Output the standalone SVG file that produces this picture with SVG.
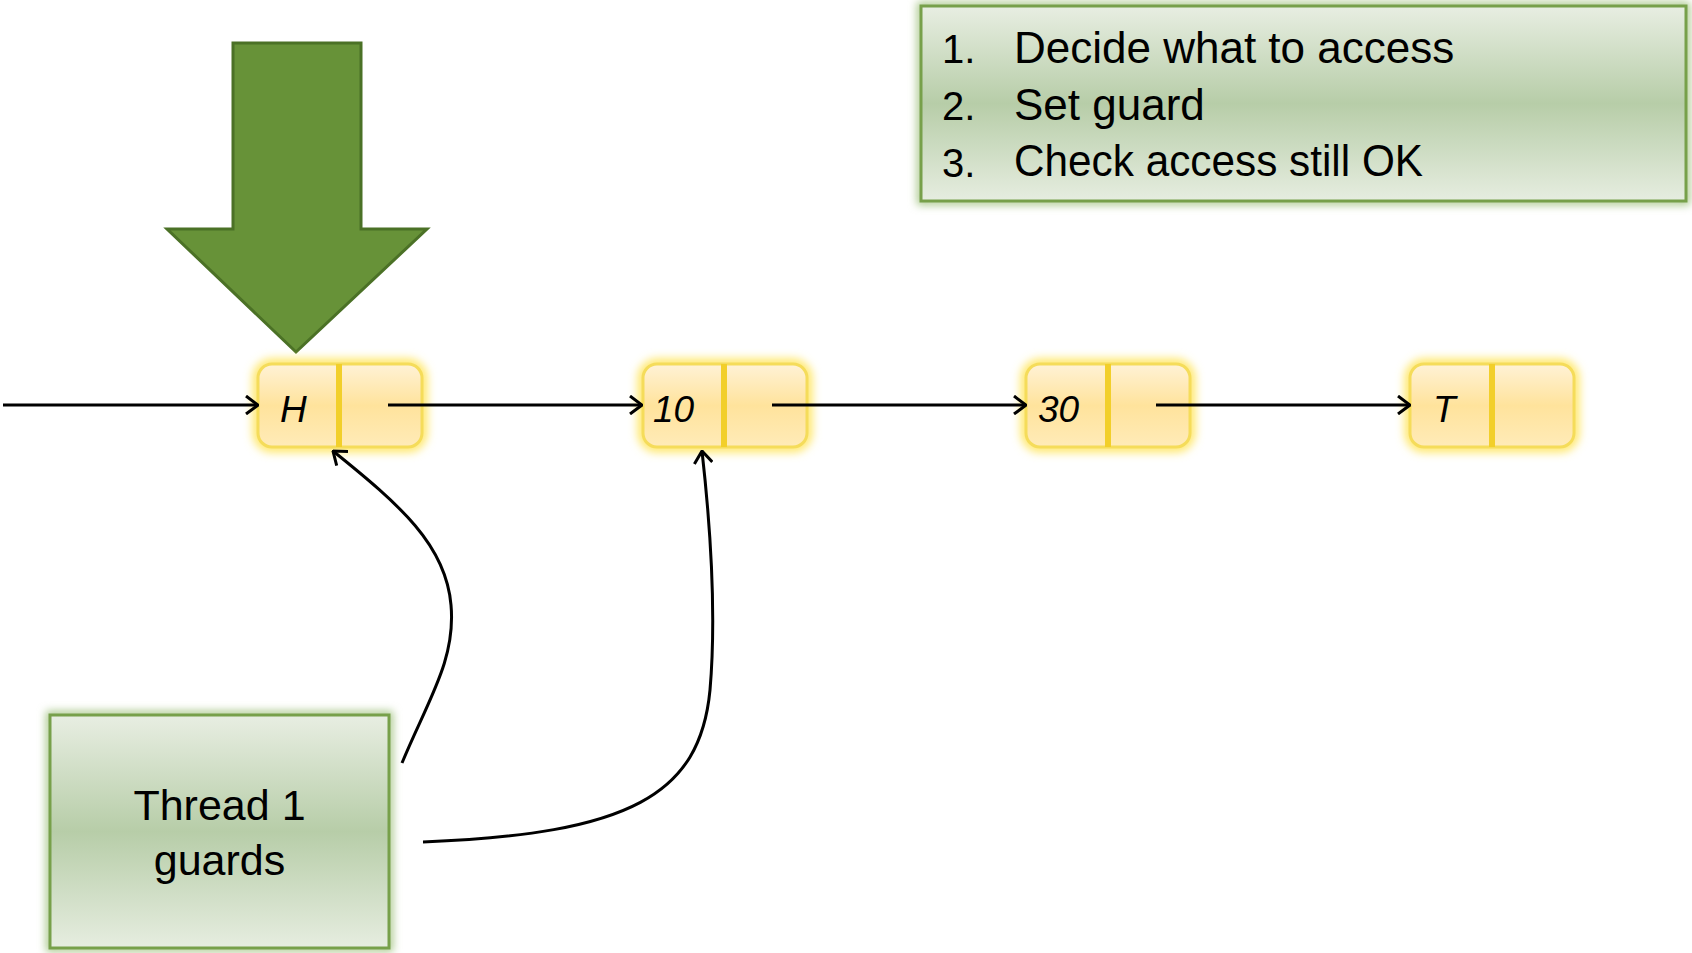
<svg xmlns="http://www.w3.org/2000/svg" width="1692" height="953" viewBox="0 0 1692 953">
<style>
.lbl{font-family:"Liberation Sans",Arial,sans-serif;fill:#000}
.ital{font-style:italic;font-size:37px}
.conn{fill:none;stroke:#000;stroke-width:3}
</style>
<defs>
<linearGradient id="ng" x1="0" y1="0" x2="0" y2="1">
<stop offset="0" stop-color="#FFF2D6"/>
<stop offset="0.5" stop-color="#FFE39C"/>
<stop offset="1" stop-color="#FFEBB8"/>
</linearGradient>
<linearGradient id="gg" x1="0" y1="0" x2="0" y2="1">
<stop offset="0" stop-color="#E8EEE2"/>
<stop offset="0.5" stop-color="#B7CDA8"/>
<stop offset="1" stop-color="#E6EDE0"/>
</linearGradient>
<filter id="glowY" x="-20%" y="-40%" width="140%" height="180%">
<feGaussianBlur stdDeviation="5"/>
</filter>
<filter id="glowG" x="-10%" y="-10%" width="120%" height="120%">
<feGaussianBlur stdDeviation="4"/>
</filter>
<marker id="ah" viewBox="0 0 14 20" refX="13" refY="10" markerWidth="14" markerHeight="20" markerUnits="userSpaceOnUse" orient="auto">
<path d="M1,1 L13,10 L1,19" fill="none" stroke="#000" stroke-width="3"/>
</marker>
</defs>

<g id="big-arrow">
<polygon points="233,43 361,43 361,229 427,229 296,352 167,229 233,229" fill="#679238" stroke="#4B7126" stroke-width="3"/>
</g>

<g id="legend">
<rect x="921" y="6" width="765" height="195" fill="none" stroke="#A9C78A" stroke-width="8" filter="url(#glowG)"/>
<rect x="921" y="6" width="765" height="195" fill="url(#gg)" stroke="#77A04A" stroke-width="3"/>
<text class="lbl" x="942" y="63" font-size="40">1.</text>
<text class="lbl" x="1014" y="63" font-size="44">Decide what to access</text>
<text class="lbl" x="942" y="120" font-size="40">2.</text>
<text class="lbl" x="1014" y="120" font-size="44">Set guard</text>
<text class="lbl" x="942" y="177" font-size="40">3.</text>
<text class="lbl" x="1014" y="176" font-size="44" textLength="409" lengthAdjust="spacingAndGlyphs">Check access still OK</text>
</g>

<g id="node-H">
<rect x="258" y="364" width="164" height="83" rx="14" fill="none" stroke="#FFE55C" stroke-width="10" filter="url(#glowY)"/>
<rect x="258" y="364" width="164" height="83" rx="14" fill="url(#ng)" stroke="#F5DC5A" stroke-width="3"/>
<line x1="339" y1="364" x2="339" y2="447" stroke="#F2CF2A" stroke-width="6"/>
<text class="lbl ital" x="280" y="422">H</text>
</g>

<g id="node-10">
<rect x="643" y="364" width="164" height="83" rx="14" fill="none" stroke="#FFE55C" stroke-width="10" filter="url(#glowY)"/>
<rect x="643" y="364" width="164" height="83" rx="14" fill="url(#ng)" stroke="#F5DC5A" stroke-width="3"/>
<line x1="724" y1="364" x2="724" y2="447" stroke="#F2CF2A" stroke-width="6"/>
<text class="lbl ital" x="653" y="422">10</text>
</g>

<g id="node-30">
<rect x="1026" y="364" width="164" height="83" rx="14" fill="none" stroke="#FFE55C" stroke-width="10" filter="url(#glowY)"/>
<rect x="1026" y="364" width="164" height="83" rx="14" fill="url(#ng)" stroke="#F5DC5A" stroke-width="3"/>
<line x1="1108" y1="364" x2="1108" y2="447" stroke="#F2CF2A" stroke-width="6"/>
<text class="lbl ital" x="1038" y="422">30</text>
</g>

<g id="node-T">
<rect x="1410" y="364" width="164" height="83" rx="14" fill="none" stroke="#FFE55C" stroke-width="10" filter="url(#glowY)"/>
<rect x="1410" y="364" width="164" height="83" rx="14" fill="url(#ng)" stroke="#F5DC5A" stroke-width="3"/>
<line x1="1492" y1="364" x2="1492" y2="447" stroke="#F2CF2A" stroke-width="6"/>
<text class="lbl ital" x="1433" y="422">T</text>
</g>

<g id="thread">
<rect x="50" y="715" width="339" height="233" fill="none" stroke="#A9C78A" stroke-width="8" filter="url(#glowG)"/>
<rect x="50" y="715" width="339" height="233" fill="url(#gg)" stroke="#77A04A" stroke-width="3"/>
<text class="lbl" x="219.5" y="820" font-size="43" text-anchor="middle">Thread 1</text>
<text class="lbl" x="219.5" y="875" font-size="43" text-anchor="middle">guards</text>
</g>

<g id="connectors">
<line class="conn" x1="3" y1="405" x2="258" y2="405" marker-end="url(#ah)"/>
<line class="conn" x1="388" y1="405" x2="642" y2="405" marker-end="url(#ah)"/>
<line class="conn" x1="772" y1="405" x2="1026" y2="405" marker-end="url(#ah)"/>
<line class="conn" x1="1156" y1="405" x2="1410" y2="405" marker-end="url(#ah)"/>
<path class="conn" d="M402,763 C428,700 456,660 451,605 C446,545 400,505 333,451" marker-end="url(#ah)"/>
<path class="conn" d="M423,842 C630,834 700,795 710,690 C716,620 712,540 702,451" marker-end="url(#ah)"/>
</g>
</svg>
